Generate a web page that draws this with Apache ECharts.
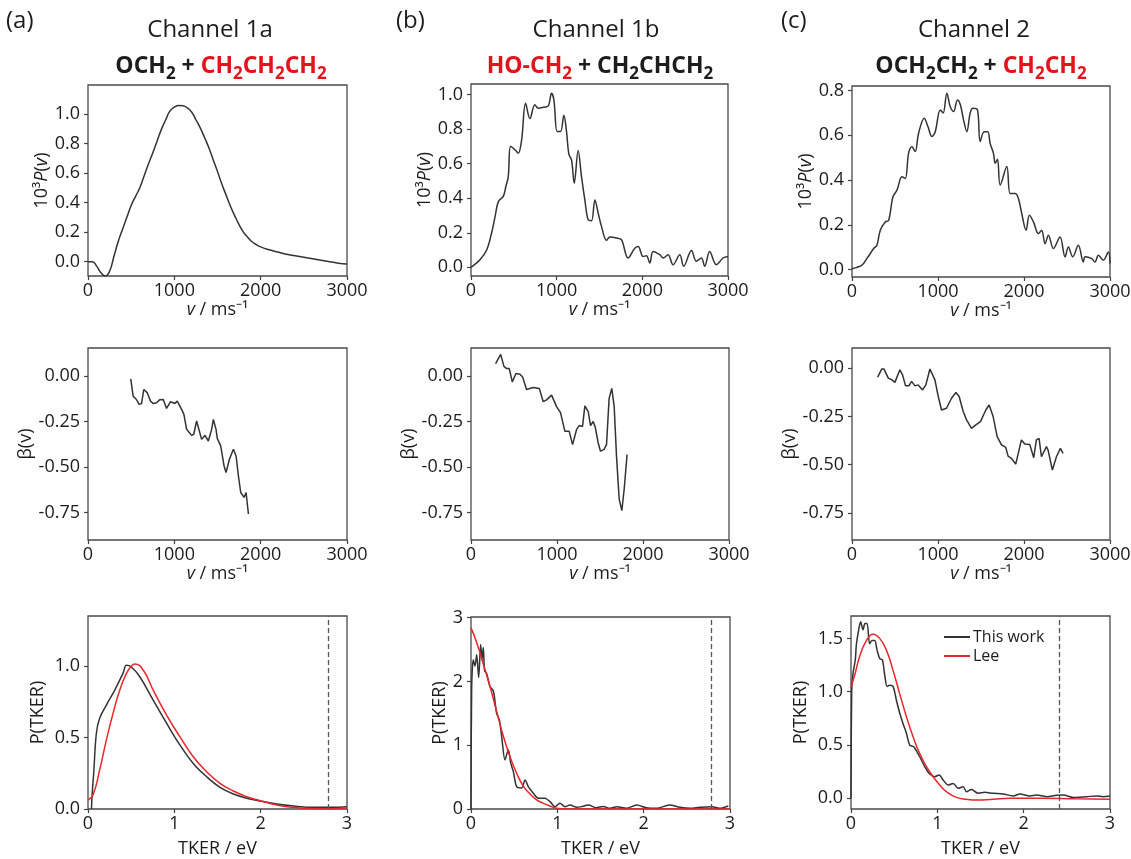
<!DOCTYPE html>
<html><head><meta charset="utf-8">
<script src="https://cdn.jsdelivr.net/npm/echarts@6/dist/echarts.min.js"></script>
<style>html,body{margin:0;padding:0;background:#fff}#c{width:1131px;height:859px}</style>
</head><body><div id="c"></div>
<script>
// ---------- DATA ----------
// Row 1: 10^3 P(v) vs v (m/s)
const aTopV = [0,50,100,150,200,250,300,350,400,450,500,550,600,650,700,750,800,850,900,950,1000,1050,1100,1150,1200,1250,1300,1350,1400,1450,1500,1550,1600,1650,1700,1750,1800,1850,1900,1950,2000,2100,2200,2300,2400,2500,2600,2700,2800,2900,3000];
const aTopP = [0.00,0.00,-0.03,-0.075,-0.097,-0.065,0.035,0.136,0.22,0.30,0.38,0.44,0.50,0.58,0.66,0.735,0.815,0.895,0.96,1.02,1.045,1.056,1.055,1.04,1.012,0.96,0.905,0.84,0.77,0.69,0.61,0.525,0.45,0.375,0.31,0.25,0.20,0.165,0.135,0.115,0.10,0.08,0.065,0.05,0.04,0.03,0.02,0.01,0.0,-0.01,-0.015];
const bTopV = [0,105,183,241,280,319,377,408,435,462,513,552,591,637,688,746,785,843,902,940,968,1006,1045,1084,1115,1142,1174,1205,1251,1290,1329,1368,1407,1446,1485,1523,1582,1621,1698,1756,1834,1912,1951,2009,2048,2087,2126,2204,2243,2300,2359,2437,2483,2573,2631,2689,2728,2786,2864,2942,3000];
const bTopP = [0,0.044,0.10,0.2,0.29,0.38,0.41,0.47,0.525,0.70,0.68,0.66,0.737,0.948,0.86,0.94,0.92,0.925,0.933,1.006,0.967,0.785,0.785,0.88,0.785,0.656,0.62,0.487,0.675,0.525,0.39,0.275,0.27,0.39,0.313,0.237,0.156,0.175,0.17,0.16,0.054,0.11,0.12,0.063,0.067,0.025,0.092,0.073,0.054,0.073,0.015,0.073,0.006,0.098,0.035,0.054,0.006,0.092,0.015,0.054,0.063];
const cTopV = [0,116,174,252,290,329,387,426,476,523,581,620,658,697,735,774,840,883,929,968,1026,1060,1103,1142,1181,1227,1260,1297,1335,1374,1405,1459,1490,1537,1579,1606,1645,1665,1692,1723,1800,1839,1897,1935,1974,2024,2063,2110,2168,2205,2245,2284,2342,2419,2477,2516,2566,2632,2690,2710,2787,2825,2865,2923,2981,3000];
const cTopP = [0.004,0.02,0.05,0.094,0.109,0.176,0.213,0.22,0.325,0.355,0.415,0.407,0.52,0.549,0.527,0.609,0.676,0.639,0.594,0.616,0.713,0.699,0.788,0.728,0.706,0.758,0.736,0.669,0.616,0.699,0.721,0.713,0.572,0.616,0.616,0.564,0.519,0.475,0.493,0.378,0.46,0.34,0.34,0.318,0.25,0.176,0.243,0.213,0.161,0.176,0.116,0.154,0.094,0.146,0.057,0.101,0.057,0.109,0.034,0.057,0.049,0.034,0.064,0.042,0.079,0.027];

// Row 2: beta(v)
const aMidV = [495,523,561,592,620,646,685,724,755,794,830,871,910,956,1006,1034,1084,1111,1142,1200,1225,1258,1316,1355,1394,1432,1452,1483,1498,1537,1576,1599,1638,1684,1715,1742,1769,1808,1831,1858];
const aMidB = [-0.015,-0.11,-0.128,-0.155,-0.15,-0.073,-0.09,-0.137,-0.15,-0.146,-0.13,-0.128,-0.177,-0.14,-0.15,-0.137,-0.182,-0.21,-0.292,-0.325,-0.319,-0.246,-0.347,-0.325,-0.356,-0.292,-0.237,-0.292,-0.343,-0.383,-0.493,-0.529,-0.456,-0.401,-0.438,-0.547,-0.639,-0.666,-0.639,-0.757];
const bMidV = [286,345,383,415,445,480,523,569,600,646,724,794,840,879,937,995,1041,1092,1142,1181,1227,1258,1297,1324,1363,1390,1421,1445,1479,1506,1545,1576,1606,1637,1665,1692,1723,1754,1781,1815];
const bMidB = [0.069,0.12,0.054,0.042,0.042,-0.031,0.015,0.011,-0.004,-0.073,-0.062,-0.067,-0.14,-0.13,-0.104,-0.167,-0.2,-0.303,-0.303,-0.376,-0.294,-0.271,-0.276,-0.163,-0.194,-0.272,-0.249,-0.28,-0.367,-0.412,-0.403,-0.376,-0.122,-0.067,-0.167,-0.439,-0.675,-0.739,-0.621,-0.43];
const cMidV = [298,345,372,422,460,499,557,588,623,662,693,732,770,821,859,906,964,1003,1041,1099,1157,1208,1246,1293,1332,1390,1440,1494,1556,1595,1641,1688,1738,1788,1815,1854,1904,1970,2009,2067,2113,2144,2175,2203,2261,2280,2330,2377,2423,2454];
const cMidB = [-0.047,-0.005,-0.005,-0.052,-0.06,-0.074,-0.009,-0.035,-0.092,-0.092,-0.069,-0.092,-0.087,-0.113,-0.087,-0.005,-0.061,-0.147,-0.217,-0.208,-0.156,-0.126,-0.147,-0.225,-0.268,-0.312,-0.294,-0.277,-0.217,-0.191,-0.251,-0.355,-0.398,-0.411,-0.456,-0.468,-0.497,-0.372,-0.393,-0.395,-0.464,-0.372,-0.364,-0.459,-0.407,-0.424,-0.528,-0.459,-0.416,-0.442];

// Row 3: P(TKER), this work (black) and Lee (red)
const aBotWorkE = [0.04,0.05,0.066,0.097,0.135,0.213,0.31,0.406,0.445,0.5,0.6,0.755,0.91,1.064,1.219,1.374,1.529,1.684,1.839,1.994,2.187,2.381,2.613,2.845,3.0];
const aBotWorkP = [0,0.12,0.25,0.53,0.634,0.727,0.832,0.95,1.005,0.995,0.925,0.762,0.6,0.448,0.319,0.226,0.152,0.105,0.075,0.056,0.035,0.021,0.012,0.012,0.016];
const aBotLeeE = [0,0.058,0.135,0.213,0.29,0.368,0.445,0.503,0.542,0.639,0.755,0.91,1.064,1.219,1.374,1.529,1.684,1.839,1.994,2.187,2.381,2.613,2.845,3.0];
const aBotLeeP = [0.063,0.098,0.273,0.483,0.669,0.832,0.949,1.0,1.014,0.972,0.832,0.657,0.506,0.366,0.261,0.179,0.126,0.086,0.058,0.028,0.012,0.002,0.002,0.007];
const bBotWorkE = [0,0.008,0.027,0.046,0.066,0.089,0.112,0.127,0.142,0.158,0.18,0.22,0.259,0.297,0.328,0.355,0.394,0.432,0.46,0.49,0.529,0.587,0.626,0.664,0.722,0.78,0.857,0.915,0.973,1.03,1.089,1.147,1.224,1.29,1.36,1.45,1.53,1.61,1.69,1.8,1.92,2.03,2.15,2.3,2.42,2.54,2.65,2.79,2.88,2.98];
const bBotWorkP = [0,1.92,2.34,2.24,2.42,2.06,2.58,2.34,2.53,2.16,2.13,1.92,1.85,1.5,1.4,1.14,0.77,0.93,0.72,0.59,0.35,0.33,0.456,0.35,0.246,0.17,0.17,0.115,0.037,0.09,0.037,0.063,0.026,0.04,0.063,0.02,0.04,0.01,0.037,0.01,0.063,0.02,0.01,0.063,0.026,0.01,0.026,0.037,0.01,0.047];
const bBotLeeE = [0,0.066,0.143,0.22,0.297,0.375,0.452,0.529,0.606,0.683,0.761,0.838,0.915,0.992,1.108,1.3,1.6,2.0,2.5,3.0];
const bBotLeeP = [2.84,2.61,2.27,1.92,1.53,1.14,0.82,0.56,0.36,0.236,0.142,0.089,0.047,0.01,0,0,0,0,0,0];
const cBotWorkE = [0,0.008,0.023,0.05,0.062,0.089,0.112,0.139,0.162,0.186,0.216,0.244,0.275,0.302,0.333,0.363,0.39,0.418,0.448,0.487,0.526,0.564,0.603,0.642,0.68,0.727,0.796,0.854,0.912,0.97,1.021,1.067,1.125,1.183,1.241,1.299,1.338,1.396,1.473,1.55,1.647,1.763,1.879,1.956,2.072,2.149,2.265,2.381,2.459,2.575,2.73,2.845,2.923,3.0];
const cBotWorkP = [0,1.0,1.17,1.3,1.44,1.58,1.656,1.58,1.64,1.64,1.45,1.48,1.48,1.39,1.31,1.3,1.16,1.05,1.06,1.05,0.92,0.8,0.7,0.61,0.5,0.484,0.39,0.297,0.228,0.203,0.219,0.172,0.125,0.14,0.094,0.109,0.0625,0.084,0.047,0.056,0.047,0.041,0.022,0.041,0.022,0.031,0.016,0.028,0.031,0.009,0.016,0.022,0.016,0.022];
const cBotLeeE = [0,0.043,0.1,0.178,0.255,0.332,0.41,0.487,0.564,0.642,0.719,0.796,0.874,0.951,1.028,1.106,1.222,1.338,1.454,1.647,1.84,2.2,2.6,3.0];
const cBotLeeP = [1.047,1.156,1.33,1.48,1.54,1.5,1.39,1.2,0.98,0.766,0.578,0.42,0.297,0.203,0.125,0.0625,0.009,-0.009,-0.016,-0.009,0,0,-0.005,-0.009];

// dashed threshold lines (eV)
const thresholds = [2.78, 2.78, 2.41];

// tick labels
const vTicks = [0, 1000, 2000, 3000];
const eTicks = [0, 1, 2, 3];
const topYTicks = [[0,0.2,0.4,0.6,0.8,1.0],[0,0.2,0.4,0.6,0.8,1.0],[0,0.2,0.4,0.6,0.8]];
const midYTicks = [0, -0.25, -0.5, -0.75];
const botYTicks = [[0,0.5,1.0],[0,1,2,3],[0,0.5,1.0,1.5]];
const legendNames = ['This work', 'Lee'];

// ---------- CHART ----------
const FONT = 'Open Sans';
const INK = '#1c1c1c';
const LINE = '#333333';
const RED = '#e8262b';
const TXT_RED = '#e3121b';
const TICK_FS = 18;
const NAME_FS = 18;

const zip = (xs, ys) => xs.map((x, i) => [x, ys[i]]);

const gridPos = [
  {left:88, top:85, width:259, height:191},
  {left:471, top:84, width:257, height:192},
  {left:852, top:86, width:258, height:191},
  {left:88, top:348, width:259, height:192},
  {left:471, top:348, width:258, height:192},
  {left:852, top:348, width:258, height:192},
  {left:88, top:616, width:259, height:193},
  {left:471, top:617, width:259, height:192},
  {left:851, top:616, width:259, height:193}
];
const grid = gridPos.map(g => Object.assign({show:true, borderColor:'#4a4a4a', borderWidth:1.3, backgroundColor:'transparent', containLabel:false, outerBoundsMode:'none'}, g));

const nameRich = {
  i: {fontStyle:'italic', fontFamily:FONT, fontSize:NAME_FS, color:INK}
};

function xAx(gi, max, ticks, name, gap) {
  return {
    type:'value', gridIndex:gi, min:0, max:max,
    axisLine:{show:false, onZero:false}, splitLine:{show:false},
    axisTick:{show:true, length:4, lineStyle:{color:'#444', width:1.2}, customValues:ticks},
    axisLabel:{customValues:ticks, margin:6, fontFamily:FONT, fontSize:TICK_FS, color:INK, formatter: v => String(v)},
    name:name, nameLocation:'middle', nameGap:gap,
    nameTextStyle:{fontFamily:FONT, fontSize:NAME_FS, color:INK, rich:nameRich}
  };
}
function yAx(gi, min, max, ticks, dec, name, gap) {
  return {
    type:'value', gridIndex:gi, min:min, max:max,
    axisLine:{show:false, onZero:false}, splitLine:{show:false},
    axisTick:{show:true, length:4, lineStyle:{color:'#444', width:1.2}, customValues:ticks},
    axisLabel:{customValues:ticks, margin:8, fontFamily:FONT, fontSize:TICK_FS, color:INK, formatter: v => v.toFixed(dec)},
    name:name, nameLocation:'middle', nameGap:gap, nameRotate:90,
    nameTextStyle:{fontFamily:FONT, fontSize:NAME_FS, color:INK, rich:nameRich}
  };
}

const vName = '{i|v} / ms⁻¹';
const pvName = '10³{i|P}({i|v})';
const xAxis = [
  xAx(0, 3000, vTicks, vName, 24),
  xAx(1, 3000, vTicks, vName, 24),
  xAx(2, 3000, vTicks, vName, 24),
  xAx(3, 3000, vTicks, vName, 25),
  xAx(4, 3000, vTicks, vName, 25),
  xAx(5, 3000, vTicks, vName, 25),
  xAx(6, 3, eTicks, 'TKER / eV', 31),
  xAx(7, 3, eTicks, 'TKER / eV', 31),
  xAx(8, 3, eTicks, 'TKER / eV', 31)
];
const yAxis = [
  yAx(0, -0.097, 1.195, topYTicks[0], 1, pvName, 33),
  yAx(1, -0.05, 1.06, topYTicks[1], 1, pvName, 36),
  yAx(2, -0.033, 0.82, topYTicks[2], 1, pvName, 37),
  yAx(3, -0.9, 0.155, midYTicks, 2, 'β(v)', 50),
  yAx(4, -0.9, 0.155, midYTicks, 2, 'β(v)', 52),
  yAx(5, -0.89, 0.104, midYTicks, 2, 'β(v)', 52),
  yAx(6, 0, 1.35, botYTicks[0], 1, 'P(TKER)', 41),
  yAx(7, 0, 3.01, botYTicks[1], 0, 'P(TKER)', 22),
  yAx(8, -0.1, 1.71, botYTicks[2], 1, 'P(TKER)', 41)
];

function line(gi, data, color, smooth, name) {
  return {
    type:'line', name:name, xAxisIndex:gi, yAxisIndex:gi, data:data,
    showSymbol:false, symbol:'none', smooth:smooth, color:color,
    lineStyle:{color:color, width:1.5}, animation:false, silent:true, clip:true
  };
}
function dashed(value) {
  return {symbol:['none','none'], silent:true, label:{show:false},
    lineStyle:{type:[5,3], color:'#555', width:1.3}, data:[{xAxis:value}], animation:false};
}

const series = [
  line(0, zip(aTopV, aTopP), LINE, 0.5, 'a1'),
  line(1, zip(bTopV, bTopP), LINE, 0.35, 'b1'),
  line(2, zip(cTopV, cTopP), LINE, 0.35, 'c1'),
  line(3, zip(aMidV, aMidB), LINE, false, 'a2'),
  line(4, zip(bMidV, bMidB), LINE, false, 'b2'),
  line(5, zip(cMidV, cMidB), LINE, false, 'c2'),
  Object.assign(line(6, zip(aBotWorkE, aBotWorkP), LINE, 0.4, 'a3w'), {markLine: dashed(thresholds[0])}),
  line(6, zip(aBotLeeE, aBotLeeP), RED, 0.5, 'a3l'),
  Object.assign(line(7, zip(bBotWorkE, bBotWorkP), LINE, 0.3, 'b3w'), {markLine: dashed(thresholds[1])}),
  line(7, zip(bBotLeeE, bBotLeeP), RED, 0.5, 'b3l'),
  Object.assign(line(8, zip(cBotWorkE, cBotWorkP), LINE, 0.3, legendNames[0]), {markLine: dashed(thresholds[2])}),
  line(8, zip(cBotLeeE, cBotLeeP), RED, 0.5, legendNames[1])
];

const FS_F = 23, FS_S = 17;
const fRich = {
  b: {fontFamily:FONT, fontSize:FS_F, fontWeight:'bold', fill:INK, lineHeight:34},
  bs: {fontFamily:FONT, fontSize:FS_S, fontWeight:'bold', fill:INK, lineHeight:17, verticalAlign:'bottom'},
  r: {fontFamily:FONT, fontSize:FS_F, fontWeight:'bold', fill:TXT_RED, lineHeight:34},
  rs: {fontFamily:FONT, fontSize:FS_S, fontWeight:'bold', fill:TXT_RED, lineHeight:17, verticalAlign:'bottom'}
};
function txt(x, y, text, size, align) {
  return {type:'text', x:x, y:y, silent:true,
    style:{text:text, fontFamily:FONT, fontSize:size, fill:INK, align:align || 'center', verticalAlign:'middle'}};
}
function formula(x, y, text) {
  return {type:'text', x:x, y:y, silent:true,
    style:{text:text, rich:fRich, fontFamily:FONT, fontSize:FS_F, fontWeight:'bold', fill:INK, align:'center', verticalAlign:'middle'}};
}

const graphic = [
  txt(6, 21, '(a)', 24, 'left'),
  txt(396, 21, '(b)', 24, 'left'),
  txt(781, 21, '(c)', 24, 'left'),
  txt(210, 30, 'Channel 1a', 24),
  txt(596, 30, 'Channel 1b', 24),
  txt(974, 30, 'Channel 2', 24),
  formula(221, 66, '{b|OCH}{bs|2}{b| + }{r|CH}{rs|2}{r|CH}{rs|2}{r|CH}{rs|2}'),
  formula(600, 66, '{r|HO-CH}{rs|2}{b| + CH}{bs|2}{b|CHCH}{bs|2}'),
  formula(981, 66, '{b|OCH}{bs|2}{b|CH}{bs|2}{b| + }{r|CH}{rs|2}{r|CH}{rs|2}')
];

const option = {
  animation:false,
  backgroundColor:'#ffffff',
  textStyle:{fontFamily:FONT},
  grid:grid, xAxis:xAxis, yAxis:yAxis, series:series, graphic:graphic,
  legend:{data:legendNames, orient:'vertical', left:944, top:629, icon:'rect', itemWidth:26, itemHeight:2,
    itemGap:3, padding:0, selectedMode:false, textStyle:{fontFamily:FONT, fontSize:16, color:INK, padding:[0,0,0,-2]}}
};
const chart = echarts.init(document.getElementById('c'), null, {renderer:'canvas'});
chart.setOption(option);
</script></body></html>
